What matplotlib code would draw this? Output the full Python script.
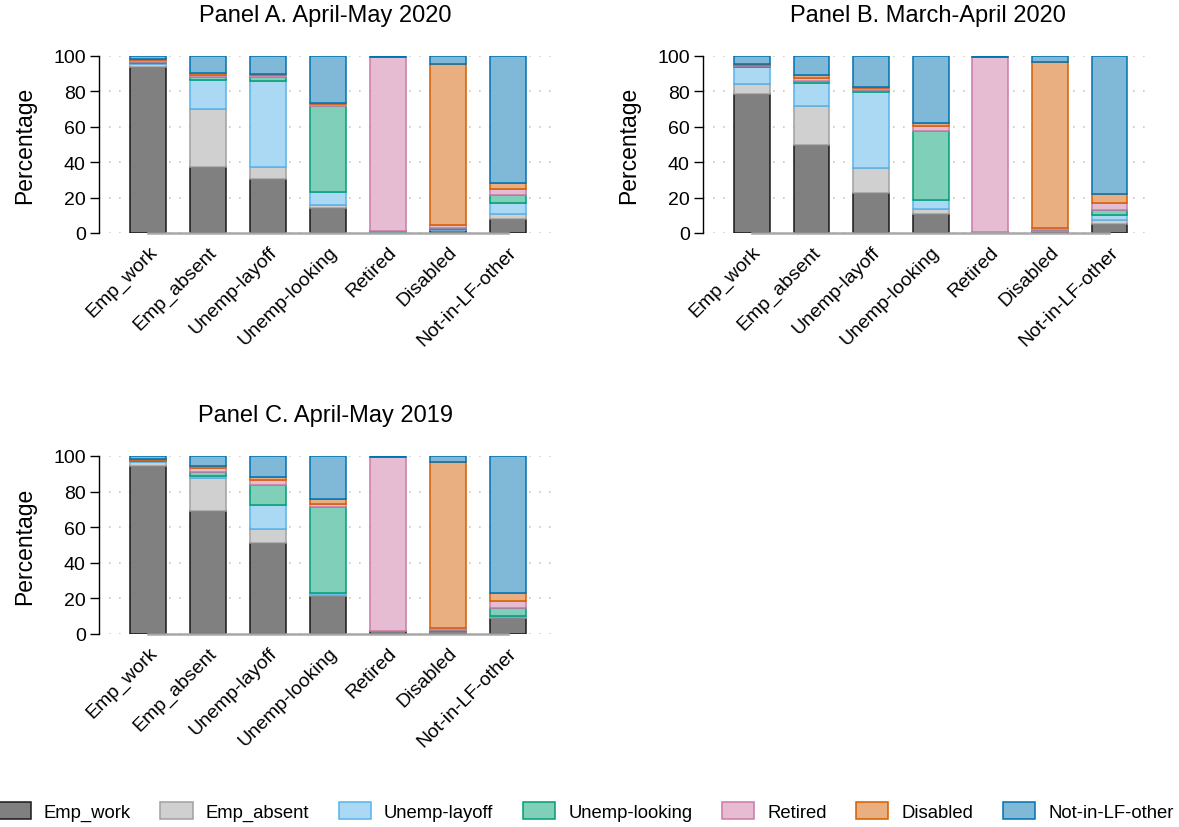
import numpy as np
import matplotlib
matplotlib.use("Agg")
import matplotlib.pyplot as plt

plt.rcParams['font.family'] = ['Liberation Sans', 'DejaVu Sans']

# labour force status categories (x axis) and the status they moved to (stack)
categories = ['Emp_work', 'Emp_absent', 'Unemp-layoff', 'Unemp-looking',
              'Retired', 'Disabled', 'Not-in-LF-other']
statuses = categories

# each row: one origin category, columns: share (%) in each status
panel_a = [[93.8, 1.5, 0.9, 0.6, 0.8, 0.5, 1.9],
           [37.5, 32.3, 16.5, 1.7, 1.3, 1.3, 9.4],
           [30.4, 6.9, 48.4, 2.3, 1.3, 0.6, 10.1],
           [14.1, 1.5, 7.5, 48.6, 1.3, 0.7, 26.3],
           [0.5, 0.1, 0.1, 0.2, 98.3, 0.3, 0.5],
           [1.5, 0.4, 0.4, 0.3, 1.7, 91.4, 4.3],
           [8.1, 2.4, 6.6, 4.5, 3.4, 3.1, 71.9]]

panel_b = [[78.6, 5.8, 9.2, 0.6, 0.7, 0.6, 4.5],
           [49.9, 22.0, 13.1, 1.1, 1.7, 1.7, 10.5],
           [22.7, 14.3, 42.4, 1.3, 1.1, 0.8, 17.4],
           [10.9, 2.8, 4.7, 39.0, 3.2, 1.5, 37.9],
           [0.5, 0.1, 0.1, 0.1, 98.6, 0.2, 0.4],
           [1.1, 0.3, 0.3, 0.2, 1.1, 93.6, 3.4],
           [5.3, 1.8, 2.8, 3.2, 4.0, 4.7, 78.2]]

panel_c = [[94.4, 2.0, 0.6, 0.6, 0.3, 0.6, 1.5],
           [69.1, 18.5, 1.4, 1.8, 2.5, 1.3, 5.4],
           [51.1, 7.7, 13.5, 11.4, 2.8, 1.9, 11.6],
           [21.3, 0.8, 1.1, 48.0, 2.0, 2.6, 24.2],
           [1.5, 0.1, 0.1, 0.1, 97.5, 0.2, 0.5],
           [1.3, 0.3, 0.2, 0.3, 1.1, 93.2, 3.6],
           [9.2, 0.4, 0.4, 4.4, 4.3, 4.3, 77.0]]

titles = ['Panel A. April-May 2020', 'Panel B. March-April 2020',
          'Panel C. April-May 2019']

# colour-blind palette: edge colour and a half-tone fill
edge_cols = ['#1a1a1a', '#a0a0a0', '#56b4e9', '#009e73',
             '#cc79a7', '#d55e00', '#0072b2']
fill_cols = ['#808080', '#d0d0d0', '#abd9f4', '#80cfb9',
             '#e6bcd3', '#eaaf80', '#80b9d8']

fig = plt.figure(figsize=(11.79, 8.28), dpi=100)
W, H = 1179., 828.
boxes = [(99, 57, 552, 234), (703, 57, 1153, 234), (99, 457, 552, 635)]


def draw_panel(ax, data, title):
    data = np.array(data).T
    x = np.arange(len(categories))
    bottom = np.zeros(len(categories))
    bars = []
    for k in range(len(statuses)):
        b = ax.bar(x, data[k], 0.6, bottom=bottom, color=fill_cols[k],
                   edgecolor=edge_cols[k], linewidth=1.1,
                   label=statuses[k], zorder=3)
        bars.append(b)
        bottom += data[k]
    ax.set_xlim(-0.82, 6.73)
    ax.set_ylim(0, 100)
    ax.set_yticks([0, 20, 40, 60, 80, 100])
    ax.set_xticks(x)
    ax.set_xticklabels(categories, rotation=45, ha='right',
                       rotation_mode='anchor', fontsize=14)
    ax.tick_params(axis='x', length=0, pad=7)
    ax.tick_params(axis='y', length=6.5, width=1, pad=3, labelsize=14)
    for s in ['top', 'right', 'bottom']:
        ax.spines[s].set_visible(False)
    ax.spines['left'].set_linewidth(1)
    ax.grid(axis='y', color='#c8c8c8', linestyle=(0, (1, 5)),
            linewidth=1.2, zorder=0)
    ax.plot([0, 6], [0, 0], color='#a8a8a8', linewidth=1.8,
            zorder=4, clip_on=False)
    ax.set_ylabel('Percentage', fontsize=16.5, labelpad=12)
    ax.set_title(title, fontsize=17, pad=25)
    return bars


all_bars = None
for box, data, title in zip(boxes, [panel_a, panel_b, panel_c], titles):
    l, t, r, b = box
    ax = fig.add_axes([l / W, 1 - b / H, (r - l) / W, (b - t) / H])
    bars = draw_panel(ax, data, title)
    if all_bars is None:
        all_bars = bars

fig.legend(all_bars, statuses, loc='center', bbox_to_anchor=(0.497, 0.019),
           ncol=7, frameon=False, fontsize=13.3, handlelength=1.75,
           handleheight=1.1, handletextpad=0.7, columnspacing=1.6,
           borderpad=0.1, borderaxespad=0.1)

fig.savefig('out.png', dpi=100)
